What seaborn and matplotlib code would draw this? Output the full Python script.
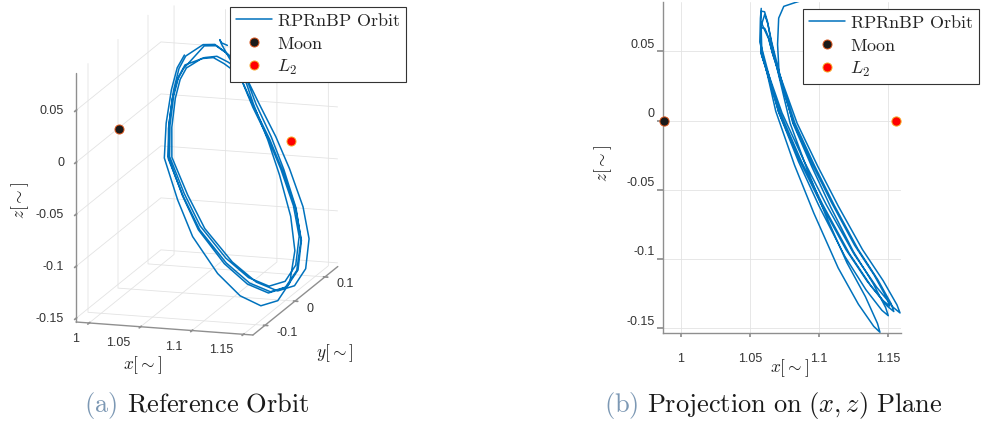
import numpy as np
import pandas as pd
import seaborn as sns
import matplotlib.pyplot as plt
from matplotlib.lines import Line2D
from matplotlib.transforms import ScaledTranslation

# orbit samples (normalised units), 5 revolutions + exit arc
orbit_x = [1.0582, 1.0576, 1.0572, 1.0626, 1.0687, 1.0822, 1.0962, 1.1138, 1.1284, 1.1395, 1.1440,
           1.1422, 1.1335, 1.1201, 1.1046, 1.0918, 1.0791, 1.0699, 1.0652, 1.0627, 1.0606,
           1.0582, 1.0579, 1.0578, 1.0638, 1.0706, 1.0851, 1.0999, 1.1186, 1.1339, 1.1454, 1.1500,
           1.1481, 1.1388, 1.1248, 1.1084, 1.0948, 1.0811, 1.0710, 1.0658, 1.0630, 1.0607,
           1.0582, 1.0581, 1.0582, 1.0646, 1.0719, 1.0870, 1.1024, 1.1218, 1.1376, 1.1493, 1.1540,
           1.1520, 1.1423, 1.1279, 1.1110, 1.0968, 1.0825, 1.0717, 1.0662, 1.0633, 1.0608,
           1.0582, 1.0583, 1.0587, 1.0655, 1.0732, 1.0891, 1.1052, 1.1254, 1.1417, 1.1537, 1.1585,
           1.1563, 1.1463, 1.1314, 1.1138, 1.0990, 1.0841, 1.0725, 1.0666, 1.0635, 1.0608,
           1.0582, 1.0580, 1.0579, 1.0640, 1.0709, 1.0856, 1.1006, 1.1194, 1.1348, 1.1464, 1.1510,
           1.1490, 1.1397, 1.1256, 1.1091, 1.0953, 1.0815, 1.0712,
           1.0700, 1.0708, 1.0745, 1.0826, 1.0950]
orbit_y = [-0.022, -0.044, -0.062, -0.098, -0.125, -0.127, -0.125, -0.102, -0.077, -0.046, -0.005,
           0.041, 0.088, 0.120, 0.136, 0.141, 0.137, 0.125, 0.091, 0.064, 0.032,
           -0.0176, -0.0390, -0.0568, -0.0920, -0.1185, -0.1205, -0.1185, -0.0960, -0.0715, -0.0411, -0.0009,
           0.0442, 0.0902, 0.1216, 0.1373, 0.1422, 0.1383, 0.1265, 0.0932, 0.0665, 0.0354,
           -0.0249, -0.0455, -0.0629, -0.0971, -0.1228, -0.1247, -0.1228, -0.1009, -0.0772, -0.0477, -0.0088,
           0.0350, 0.0796, 0.1100, 0.1252, 0.1300, 0.1262, 0.1148, 0.0825, 0.0570, 0.0264,
           -0.0153, -0.0365, -0.0541, -0.0891, -0.1153, -0.1172, -0.1153, -0.0929, -0.0687, -0.0386, 0.0011,
           0.0458, 0.0914, 0.1224, 0.1379, 0.1428, 0.1389, 0.1273, 0.0943, 0.0680, 0.0370,
           -0.0202, -0.0400, -0.0570, -0.0902, -0.1150, -0.1168, -0.1150, -0.0938, -0.0708, -0.0423, -0.0046,
           0.0377, 0.0810, 0.1104, 0.1251, 0.1297, 0.1260, 0.1150,
           0.085, 0.058, 0.040, 0.018, -0.005]
orbit_z = [0.0810, 0.0738, 0.0568, 0.0334, 0.0067, -0.0321, -0.0669, -0.1065, -0.1327, -0.1487, -0.1530,
           -0.1466, -0.1273, -0.1027, -0.0679, -0.0364, -0.0021, 0.0367, 0.0579, 0.0715, 0.0786,
           0.0790, 0.0720, 0.0553, 0.0326, 0.0065, -0.0296, -0.0616, -0.0981, -0.1223, -0.1371, -0.1410,
           -0.1351, -0.1173, -0.0947, -0.0626, -0.0335, -0.0020, 0.0358, 0.0564, 0.0697, 0.0766,
           0.0686, 0.0625, 0.0480, 0.0283, 0.0057, -0.0290, -0.0603, -0.0960, -0.1197, -0.1341, -0.1380,
           -0.1322, -0.1148, -0.0926, -0.0613, -0.0328, -0.0019, 0.0311, 0.0490, 0.0605, 0.0665,
           0.0670, 0.0610, 0.0469, 0.0276, 0.0055, -0.0292, -0.0608, -0.0967, -0.1205, -0.1351, -0.1390,
           -0.1332, -0.1157, -0.0933, -0.0617, -0.0330, -0.0019, 0.0304, 0.0478, 0.0592, 0.0650,
           0.0710, 0.0648, 0.0497, 0.0293, 0.0059, -0.0281, -0.0586, -0.0932, -0.1162, -0.1302, -0.1340,
           -0.1284, -0.1115, -0.0900, -0.0595, -0.0319, -0.0019, 0.0322,
           0.055, 0.074, 0.0825, 0.0852, 0.0890]

moon_xyz = [0.98785, 0.0, 0.0]
l2_xyz = [1.1557, 0.0, 0.0]

x_ticks = [1, 1.05, 1.1, 1.15]
x_ticklabels = ['1', '1.05', '1.1', '1.15']
y_ticks = [-0.1, 0, 0.1]
y_ticklabels = ['-0.1', '0', '0.1']
z_ticks = [-0.15, -0.1, -0.05, 0, 0.05]
z_ticklabels = ['-0.15', '-0.1', '-0.05', '0', '0.05']

legend_labels = [r'$\mathrm{RPRnBP\ Orbit}$', r'$\mathrm{Moon}$', r'$L_2$']

BLUE = '#0072BD'
MOON_EDGE = '#d95319'
L2_EDGE = '#f5a623'
GRID = '#e3e3e3'
AXIS_GRAY = '#8f8f8f'
TEXT = '#333333'
CAP_BLUE = '#7c98b4'

X_LIM = (0.9872, 1.1592)
Y_LIM = (-0.140, 0.143)
Z_LIM = (-0.1535, 0.0860)

W, H = 986, 427
TICK_SIZE = 9

sns.set_theme(style='white')
plt.rcParams['font.family'] = ['Liberation Sans', 'DejaVu Sans']
plt.rcParams['mathtext.fontset'] = 'cm'
plt.rcParams['axes.unicode_minus'] = False


def fx(px):
    return px / W


def fy(py):
    return 1 - py / H


def project(ax, x, y, z):
    v = ax.M @ np.array([x, y, z, 1.0])
    return ax.transData.transform((v[0] / v[3], v[1] / v[3]))


def fit_box(fig, ax, lo, hi, target_lo, target_hi):
    """Move/scale the 3d axes so two box corners land on target pixels."""
    t_lo = np.array([target_lo[0], H - target_lo[1]])
    t_hi = np.array([target_hi[0], H - target_hi[1]])
    for _ in range(3):
        fig.canvas.draw()
        p_lo = project(ax, *lo)
        p_hi = project(ax, *hi)
        s = (t_hi[1] - t_lo[1]) / (p_hi[1] - p_lo[1])
        box = ax.get_position(original=True)
        c = np.array([(box.x0 + box.width / 2) * W, (box.y0 + box.height / 2) * H])
        nc = t_lo - s * (p_lo - c)
        w, h = box.width * s, box.height * s
        ax.set_position([nc[0] / W - w / 2, nc[1] / H - h / 2, w, h])
    fig.canvas.draw()


def label_3d_ticks(fig, ax, points, labels, dx, dy, ha):
    """Write tick labels next to projected tick points, offset in pixels (dy down)."""
    for (x, y, z), text in zip(points, labels):
        px, py = project(ax, x, y, z)
        fig.text((px + dx) / W, (py - dy) / H, text, ha=ha, va='center',
                 fontsize=TICK_SIZE, color=TEXT)


def nudge_labels(fig, axis, dx, dy):
    """Shift tick labels by (dx, dy) pixels, y up."""
    shift = ScaledTranslation(dx / fig.dpi, dy / fig.dpi, fig.dpi_scale_trans)
    for tick in axis.get_major_ticks():
        tick.label1.set_transform(tick.label1.get_transform() + shift)


fig = plt.figure(figsize=(W / 100, H / 100), dpi=100)

# (a) 3d view
ax3 = fig.add_axes([0.0, 0.05, 0.45, 0.95], projection='3d')
ax3.set_proj_type('ortho')
ax3.view_init(elev=14.1, azim=-73.2)
ax3.set_box_aspect((185, 294, 257))
ax3.plot(orbit_x, orbit_y, orbit_z, color=BLUE, lw=1.1)
ax3.plot([moon_xyz[0]], [moon_xyz[1]], [moon_xyz[2]], 'o', ms=6.5,
         mfc='k', mec=MOON_EDGE, mew=0.7)
ax3.plot([l2_xyz[0]], [l2_xyz[1]], [l2_xyz[2]], 'o', ms=6.5,
         mfc='#ff0000', mec=L2_EDGE, mew=0.7)
ax3.set_xlim(*X_LIM)
ax3.set_ylim(*Y_LIM)
ax3.set_zlim(*Z_LIM)
ax3.set_xticks(x_ticks)
ax3.set_xticklabels([''] * len(x_ticks))
ax3.set_yticks(y_ticks)
ax3.set_yticklabels([''] * len(y_ticks))
ax3.set_zticks(z_ticks)
ax3.set_zticklabels([''] * len(z_ticks))
ax3.zaxis.set_ticks_position('lower')
for axis in (ax3.xaxis, ax3.yaxis, ax3.zaxis):
    axis.pane.fill = False
    axis.pane.set_edgecolor('none')
    axis.line.set_color(AXIS_GRAY)
    axis.line.set_linewidth(1.0)
    axis._axinfo['grid'].update(color=GRID, linewidth=0.6)
ax3.tick_params(colors=AXIS_GRAY)
ax3.grid(True)

fit_box(fig, ax3, (X_LIM[0], Y_LIM[0], Z_LIM[0]), (X_LIM[0], Y_LIM[0], Z_LIM[1]),
        (76, 323), (76, 74))
label_3d_ticks(fig, ax3, [(t, Y_LIM[0], Z_LIM[0]) for t in x_ticks], x_ticklabels,
               -10, 15, 'right')
label_3d_ticks(fig, ax3, [(X_LIM[1], t, Z_LIM[0]) for t in y_ticks], y_ticklabels,
               11.5, 6.5, 'left')
label_3d_ticks(fig, ax3, [(X_LIM[0], Y_LIM[0], t) for t in z_ticks], z_ticklabels,
               -12, 0, 'right')

# (b) projection on (x, z)
ax2 = fig.add_axes([fx(663), fy(334), fx(901) - fx(663), fy(2.5) - fy(334)])
proj = pd.DataFrame({'x': orbit_x, 'z': orbit_z})
sns.lineplot(data=proj, x='x', y='z', sort=False, estimator=None, color=BLUE,
             lw=1.1, ax=ax2, legend=False)
sns.scatterplot(x=[moon_xyz[0]], y=[moon_xyz[2]], color='k', edgecolor=MOON_EDGE,
                linewidth=0.7, s=44, ax=ax2, clip_on=False, zorder=5, legend=False)
sns.scatterplot(x=[l2_xyz[0]], y=[l2_xyz[2]], color='#ff0000', edgecolor=L2_EDGE,
                linewidth=0.7, s=44, ax=ax2, clip_on=False, zorder=5, legend=False)
ax2.set_xlim(*X_LIM)
ax2.set_ylim(*Z_LIM)
ax2.set_xticks(x_ticks)
ax2.set_xticklabels(x_ticklabels)
ax2.set_yticks(z_ticks)
ax2.set_yticklabels(z_ticklabels)
ax2.grid(True, color=GRID, lw=0.6)
ax2.set_xlabel('')
ax2.set_ylabel('')
sns.despine(ax=ax2)
for side in ('left', 'bottom'):
    ax2.spines[side].set_color(AXIS_GRAY)
    ax2.spines[side].set_linewidth(1.0)
ax2.tick_params(axis='x', length=3, color=AXIS_GRAY, direction='out', pad=11,
                labelsize=TICK_SIZE, labelcolor=TEXT, bottom=True)
ax2.tick_params(axis='y', length=4, color=AXIS_GRAY, direction='out', pad=2,
                labelsize=TICK_SIZE, labelcolor=TEXT, left=True)
nudge_labels(fig, ax2.yaxis, 0, 9)

# axis labels
lab = dict(fontsize=12.5, color='#222222', ha='center', va='center')
fig.text(fx(143), fy(365), r'$x[\sim]$', **lab)
fig.text(fx(335), fy(353), r'$y[\sim]$', **lab)
fig.text(fx(20), fy(200), r'$z[\sim]$', rotation=90, **lab)
fig.text(fx(790), fy(368), r'$x[\sim]$', **lab)
fig.text(fx(603), fy(163), r'$z[\sim]$', rotation=90, **lab)

# legends
handles = [Line2D([], [], color=BLUE, lw=1.1),
           Line2D([], [], ls='none', marker='o', ms=6.5, mfc='k', mec=MOON_EDGE, mew=0.7),
           Line2D([], [], ls='none', marker='o', ms=6.5, mfc='#ff0000', mec=L2_EDGE, mew=0.7)]
for anchor in [(fx(406), fy(8)), (fx(979), fy(10))]:
    leg = fig.legend(handles, legend_labels, loc='upper right', bbox_to_anchor=anchor,
                     fontsize=13, frameon=True, fancybox=False, framealpha=1,
                     edgecolor='#333333', borderpad=0.3, labelspacing=0.3,
                     handlelength=2.0, handletextpad=0.3, borderaxespad=0)
    leg.get_frame().set_linewidth(0.8)

# captions
cap = dict(fontsize=19, va='baseline')
fig.text(fx(84), fy(412), r'$\mathrm{(a)}$', color=CAP_BLUE, **cap)
fig.text(fx(127), fy(412), r'$\mathrm{Reference\ Orbit}$', color='k', **cap)
fig.text(fx(604), fy(412), r'$\mathrm{(b)}$', color=CAP_BLUE, **cap)
fig.text(fx(647), fy(412), r'$\mathrm{Projection\ on\ }(x,z)\mathrm{\ Plane}$', color='k', **cap)

fig.savefig('out.png', dpi=100)
